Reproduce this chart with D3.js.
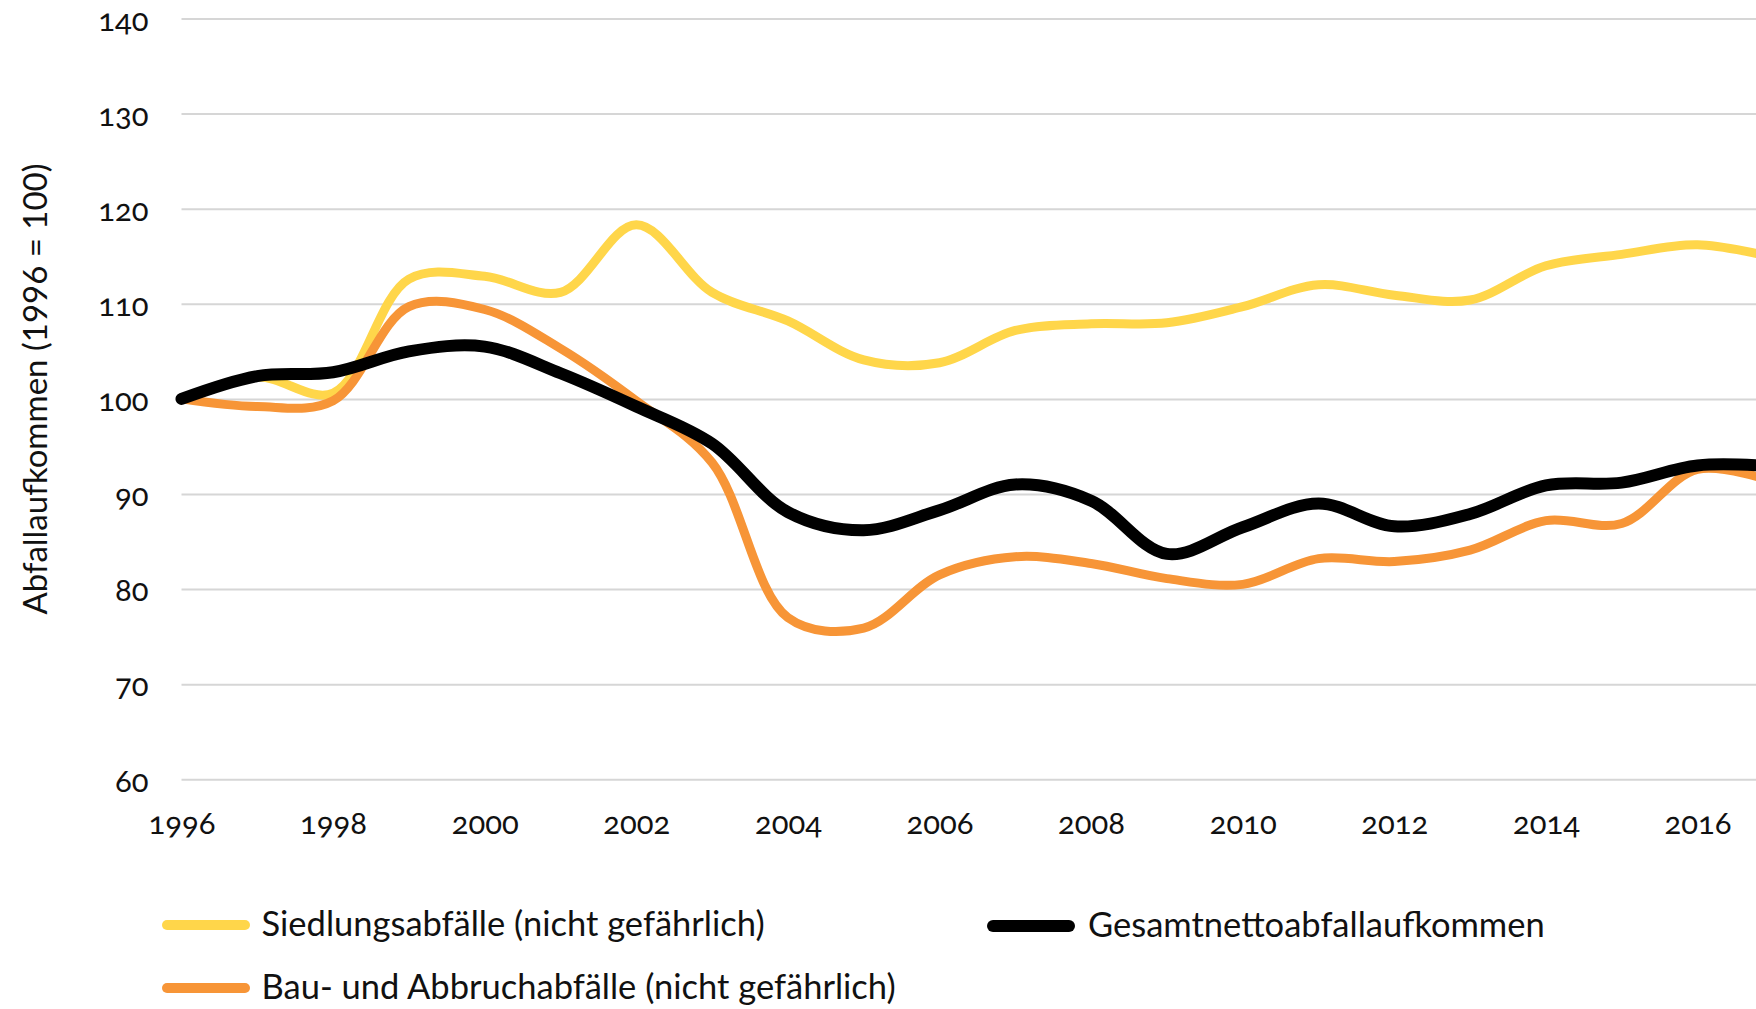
<!DOCTYPE html>
<html>
<head>
<meta charset="utf-8">
<script src="https://cdn.jsdelivr.net/npm/d3@7"></script>
<style>
  html, body { margin: 0; padding: 0; background: #fff; }
  svg { display: block; overflow: hidden; font-family: Lato, "Open Sans", sans-serif; }
  .tick text { font-family: Lato, "Open Sans", sans-serif; font-variant-numeric: oldstyle-nums; font-feature-settings: "onum"; fill: #111; }
</style>
</head>
<body>
<svg width="1756" height="1009"></svg>
<script>
  // Abfallaufkommen, Index 1996 = 100
  const years = [1996, 1997, 1998, 1999, 2000, 2001, 2002, 2003, 2004, 2005, 2006,
    2007, 2008, 2009, 2010, 2011, 2012, 2013, 2014, 2015, 2016, 2017];
  const siedlung = [100, 102.3, 100.6, 112.6, 112.9, 111.2, 118.3, 111.2, 108.2, 104.1, 103.8,
    107.2, 107.9, 108.0, 109.7, 112.0, 110.9, 110.4, 114.0, 115.2, 116.2, 114.9];
  const bau = [100, 99.2, 99.8, 109.7, 109.4, 105.3, 99.8, 93.3, 77.0, 75.9, 81.5,
    83.4, 82.7, 81.1, 80.5, 83.2, 82.9, 84.1, 87.2, 86.9, 92.6, 91.3];
  const gesamt = [100, 102.4, 102.8, 105.0, 105.5, 102.7, 99.2, 95.3, 88.1, 86.2, 88.3,
    91.0, 89.3, 83.7, 86.5, 89.0, 86.6, 87.9, 90.9, 91.2, 93.0, 92.9];

  const yTicks = [60, 70, 80, 90, 100, 110, 120, 130, 140];
  const xTicks = [1996, 1998, 2000, 2002, 2004, 2006, 2008, 2010, 2012, 2014, 2016];

  const seriesNames = ['Siedlungsabfälle (nicht gefährlich)', 'Bau- und Abbruchabfälle (nicht gefährlich)', 'Gesamtnettoabfallaufkommen'];
  const seriesColors = ['#ffd64a', '#f79537', '#000000'];

  const svg = d3.select('svg');
  const W = 1756;
  const left = 181.5;

  const x = d3.scaleLinear().domain([1996, 2017]).range([left, left + 21 * 75.8]);
  const y = d3.scaleLinear().domain([60, 140]).range([779.3, 18.5]);

  // y axis with gridlines
  svg.append('g')
    .attr('transform', `translate(${left},0)`)
    .call(d3.axisLeft(y).tickValues(yTicks).tickSize(-(W - left)).tickPadding(33))
    .attr('font-family', null)
    .call(g => g.select('.domain').remove())
    .call(g => g.selectAll('.tick line').attr('stroke', '#d6d6d6').attr('stroke-width', 2))
    .call(g => g.selectAll('.tick text').attr('font-size', 31).attr('dy', '0.38em'));

  // x axis labels
  svg.append('g')
    .attr('transform', `translate(0,${y(60)})`)
    .call(d3.axisBottom(x).tickValues(xTicks).tickFormat(d3.format('d')).tickSize(0))
    .attr('font-family', null)
    .call(g => g.select('.domain').remove())
    .call(g => g.selectAll('.tick text').attr('font-size', 31).attr('dy', null).attr('y', 55));

  svg.append('text')
    .attr('transform', 'translate(47,389) rotate(-90)')
    .attr('text-anchor', 'middle')
    .attr('font-size', 33)
    .attr('fill', '#111')
    .text('Abfallaufkommen (1996 = 100)');

  const line = d3.line()
    .x((d, i) => x(years[i]))
    .y(d => y(d))
    .curve(d3.curveCatmullRom);

  const series = [
    { name: seriesNames[0], values: siedlung, color: seriesColors[0], width: 9 },
    { name: seriesNames[1], values: bau, color: seriesColors[1], width: 9 },
    { name: seriesNames[2], values: gesamt, color: seriesColors[2], width: 12 }
  ];

  svg.append('g').selectAll('path')
    .data(series)
    .enter()
    .append('path')
    .attr('d', d => line(d.values))
    .attr('fill', 'none')
    .attr('stroke', d => d.color)
    .attr('stroke-width', d => d.width)
    .attr('stroke-linejoin', 'round')
    .attr('stroke-linecap', 'round');

  // legend
  const legendPos = [
    { x: 162, y: 925, len: 88, tx: 261.5 },
    { x: 162, y: 988, len: 88, tx: 261.5 },
    { x: 988, y: 926, len: 86, tx: 1088 }
  ];

  const legend = svg.append('g').selectAll('g')
    .data(series)
    .enter()
    .append('g');

  legend.append('line')
    .attr('x1', (d, i) => legendPos[i].x + 5)
    .attr('x2', (d, i) => legendPos[i].x + legendPos[i].len - 5)
    .attr('y1', (d, i) => legendPos[i].y)
    .attr('y2', (d, i) => legendPos[i].y)
    .attr('stroke', d => d.color)
    .attr('stroke-width', (d, i) => i === 2 ? 12 : 10)
    .attr('stroke-linecap', 'round');

  legend.append('text')
    .attr('x', (d, i) => legendPos[i].tx)
    .attr('y', (d, i) => legendPos[i].y + 11)
    .attr('font-size', 34.5)
    .attr('fill', '#111')
    .text(d => d.name);
</script>
</body>
</html>
